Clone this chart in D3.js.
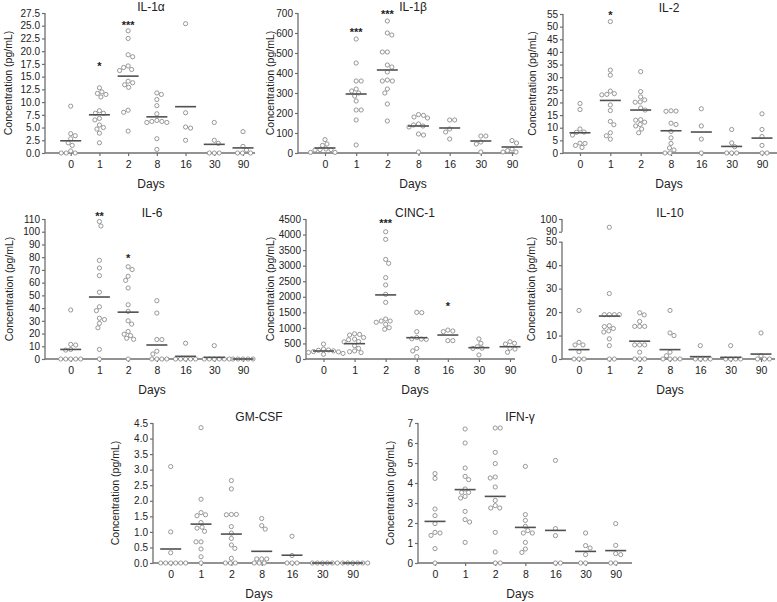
<!DOCTYPE html>
<html><head><meta charset="utf-8">
<script src="https://cdn.jsdelivr.net/npm/d3@7/dist/d3.min.js"></script>
<style>
html,body{margin:0;padding:0;background:#fff;}
svg text{font-family:Arial,"Liberation Sans",sans-serif;fill:#222;}
</style></head>
<body>
<svg id="chart" width="777" height="602"></svg>
<script>
// ---------------- DATA ----------------
const days = ["0","1","2","8","16","30","90"];

const il1aValues = [
  [9.2,3.8,3.4,2.8,2.0,1.5,0.4,0,0,0],
  [12.8,12.0,11.7,11.5,11.0,8.3,7.8,7.8,6.8,6.5,5.5,5.0,4.7,3.9,2.0],
  [24.0,22.5,19.3,18.9,17.1,16.8,16.4,16.2,14.1,13.8,13.4,12.9,8.4,8.0,4.3],
  [11.8,11.5,10.5,9.3,7.7,6.4,6.2,6.0,6.0,6.2,2.8,0.7],
  [25.4,7.9,5.1,4.9,2.5],
  [6.0,2.5,1.9,0,0,0],
  [4.2,1.3,0.6,0,0,0]
];
const il1aMedians = [2.4,7.5,15.1,7.1,9.1,1.7,1.0];
const il1aStars = [null,{t:"*",v:17.4},{t:"***",v:25.6},null,null,null,null];
const il1aTicks = [0,2.5,5,7.5,10,12.5,15,17.5,20,22.5,25,27.5];

const il1bValues = [
  [67,45,38,20,17,17,15,3,3],
  [570,450,360,360,320,310,300,285,260,215,215,165,40],
  [660,600,590,505,505,440,430,405,365,360,360,320,300,245,160],
  [192,188,180,175,145,140,135,130,95,90,5],
  [165,165,120,105,70],
  [85,85,55,45,5],
  [62,50,20,12,5,5]
];
const il1bMedians = [25,295,415,135,125,60,30];
const il1bStars = [null,{t:"***",v:615},{t:"***",v:705},null,null,null,null];
const il1bTicks = [0,100,200,300,400,500,600,700];

const il2Values = [
  [19.6,17.2,9.5,8.3,8.2,7.1,3.9,3.8,3.0,2.2],
  [52,32.8,30.8,24.5,23.5,23.2,23.0,19.0,16.8,12.5,11.2,8.0,6.8,5.5],
  [32.2,24.3,22.2,21.0,20.2,20.1,17.8,17.0,13.2,13.0,12.2,11.3,10.7,9.5,8.0],
  [16.7,16.6,16.5,11.8,11.3,8.5,6.0,3.8,2.0,1.2,0,0],
  [17.5,10.7,5.5,0],
  [9.3,4.0,2.5,0,0,0],
  [15.5,9.3,6.5,3.0,0,0]
];
const il2Medians = [8.0,20.8,17.0,8.8,8.3,2.6,5.9];
const il2Stars = [null,{t:"*",v:55.3},null,null,null,null,null];
const il2Ticks = [0,5,10,15,20,25,30,35,40,45,50,55];

const il6Values = [
  [38.5,11.5,11.0,7.5,7.0,0,0,0,0,0],
  [108,104.5,77.5,71.5,65.5,52.5,41,38,32,31,28,24.5,7.5,0],
  [72.5,70.3,65,61.8,55.8,42.6,37.4,30,27.4,21.6,19.5,18.4,16.3,15.5,0],
  [45.8,36.1,15.3,15.3,6.1,3.9,0,0,0,0],
  [12.4,0,0,0,0,0],
  [10.5,0,0,0,0,0,0],
  [0,0,0,0,0]
];
const il6Medians = [7.5,48.7,36.8,11,2.1,1.3,0];
const il6Stars = [null,{t:"**",v:114},{t:"*",v:81},null,null,null,null];
const il6Ticks = [0,10,20,30,40,50,60,70,80,90,100,110];

const cincValues = [
  [480,320,290,280,260,240,230,210,180,150],
  [810,790,770,690,640,620,560,550,430,340,260,235,205],
  [4090,3845,3200,3075,2615,2380,2080,1820,1285,1220,1220,1180,1115,1005,955],
  [1500,1490,880,690,650,640,630,340,260,75],
  [930,900,880,590,590],
  [645,505,395,345,340,130],
  [555,505,480,345,320,215]
];
const cincMedians = [257,493,2060,685,770,365,395];
const cincStars = [null,null,{t:"***",v:4450},null,{t:"*",v:1780},null,null];
const cincTicks = [0,500,1000,1500,2000,2500,3000,3500,4000,4500];

const il10Values = [
  [20.7,7.1,6.0,6.0,3.1,0,0,0],
  [93.5,27.9,18.9,18.9,18.9,18.9,14.2,13.8,13.0,12.0,11.5,8.6,5.7,0,0],
  [19.7,18.8,16.0,13.9,13.9,13.9,6.0,6.0,6.0,2.9,0,0,0],
  [20.7,11.1,10.0,2.9,1.4,0,0,0,0],
  [5.7,0,0,0,0],
  [5.7,0,0,0,0],
  [11.1,1.4,0,0,0]
];
const il10Medians = [4.0,18.3,7.6,4.0,1.0,0.7,2.1];
const il10Stars = [null,null,null,null,null,null,null];
const il10Ticks = [0,10,20,30,40,50,90,100];

const gmValues = [
  [3.1,1.0,0.33,0,0,0,0,0,0],
  [4.35,2.05,1.62,1.55,1.52,1.3,1.15,1.12,1.02,0.68,0.68,0.45,0.2,0.0],
  [2.65,2.38,1.56,1.55,1.56,1.17,0.96,0.79,0.58,0.47,0.15,0,0,0],
  [1.43,1.2,1.09,0.13,0.13,0.13,0,0,0],
  [0.86,0.24,0,0,0],
  [0,0,0,0,0,0],
  [0,0,0,0,0,0]
];
const gmMedians = [0.45,1.25,0.93,0.375,0.25,0,0];
const gmStars = [null,null,null,null,null,null,null];
const gmTicks = [0,0.5,1,1.5,2,2.5,3,3.5,4,4.5];

const ifnValues = [
  [4.47,4.23,2.7,2.37,1.97,1.53,1.5,1.38,0.72,0],
  [6.7,6.0,4.75,4.33,4.17,3.7,3.53,3.53,3.33,3.25,2.58,2.17,2.05,1.03],
  [6.75,6.75,5.53,4.97,4.3,4.25,3.8,3.13,2.87,2.75,2.75,1.53,0.55,0,0],
  [4.83,2.42,2.13,1.83,1.62,1.5,1.5,1.03,0.7,0.53],
  [5.13,1.72,1.37,0,0],
  [1.5,0.87,0.75,0.42,0,0],
  [1.97,0.88,0.47,0.42,0,0]
];
const ifnMedians = [2.08,3.67,3.33,1.78,1.63,0.58,0.62];
const ifnStars = [null,null,null,null,null,null,null];
const ifnTicks = [0,1,2,3,4,5,6,7];

const yTitle = "Concentration (pg/mL)";
const xTitle = "Days";

// ---------------- LAYOUT ----------------
const panels = [
  {title:"IL-1\u03b1", values:il1aValues, medians:il1aMedians, stars:il1aStars, ticks:il1aTicks, fmt:d3.format(".1f"),
   ax:45, top:13, bottom:153, x0:70.7, x1:243, xEnd:255, ylx:8, cx:151},
  {title:"IL-1\u03b2", values:il1bValues, medians:il1bMedians, stars:il1bStars, ticks:il1bTicks, fmt:d3.format("d"),
   ax:298, top:13, bottom:153, x0:325, x1:512, xEnd:516, ylx:270, cx:413},
  {title:"IL-2", values:il2Values, medians:il2Medians, stars:il2Stars, ticks:il2Ticks, fmt:d3.format("d"),
   ax:563, top:14, bottom:153, x0:580, x1:762, xEnd:777, ylx:532, cx:669},
  {title:"IL-6", values:il6Values, medians:il6Medians, stars:il6Stars, ticks:il6Ticks, fmt:d3.format("d"),
   ax:45, top:219, bottom:359, x0:70.7, x1:243, xEnd:255, ylx:9, cx:152},
  {title:"CINC-1", values:cincValues, medians:cincMedians, stars:cincStars, ticks:cincTicks, fmt:d3.format("d"),
   ax:306, top:219, bottom:359, x0:323.5, x1:510, xEnd:515, ylx:270, cx:415},
  {title:"IL-10", values:il10Values, medians:il10Medians, stars:il10Stars, ticks:il10Ticks, fmt:d3.format("d"),
   ax:562, top:219, bottom:359, x0:579, x1:761, xEnd:775, ylx:531, cx:670, broken:{y50:241.7, y90:231.7}},
  {title:"GM-CSF", values:gmValues, medians:gmMedians, stars:gmStars, ticks:gmTicks, fmt:d3.format(".1f"),
   ax:153, top:423, bottom:563, x0:170.7, x1:352.7, xEnd:365, ylx:115, cx:259},
  {title:"IFN-\u03b3", values:ifnValues, medians:ifnMedians, stars:ifnStars, ticks:ifnTicks, fmt:d3.format("d"),
   ax:418, top:423, bottom:563, x0:435, x1:615.7, xEnd:632, ylx:390, cx:520}
];

const AXIS = "#6e6e6e", DOT = "#8c8c8c", MED = "#505050";
const svg = d3.select("#chart");

function swarm(vals, y, minD) {
  const order = vals.map((v,i)=>({v,i})).sort((a,b)=>b.v-a.v);
  const placed = [];
  let flip = 1;
  order.forEach(o => {
    const py = y(o.v);
    let best = 0;
    for (let k = 0; k < 400; k++) {
      const cands = k === 0 ? [0] : [flip*k*0.5, -flip*k*0.5];
      let found = null;
      for (const dx of cands) {
        let ok = true;
        for (const p of placed) {
          const ddx = p.dx - dx, ddy = p.py - py;
          if (ddx*ddx + ddy*ddy < minD*minD) { ok = false; break; }
        }
        if (ok) { found = dx; break; }
      }
      if (found !== null) { best = found; break; }
    }
    if (best !== 0) flip = best > 0 ? -1 : 1;
    placed.push({dx:best, py, v:o.v});
  });
  return placed;
}

panels.forEach(p => {
  const g = svg.append("g");
  const maxT = d3.max(p.ticks);
  let y;
  if (p.broken) {
    y = d3.scaleLinear().domain([0,50,90,100]).range([p.bottom, p.broken.y50, p.broken.y90, p.top]);
  } else {
    y = d3.scaleLinear().domain([0, maxT]).range([p.bottom, p.top]);
  }
  const x = d3.scalePoint().domain(days).range([p.x0, p.x1]);

  // y axis
  const yAxis = d3.axisLeft(y).tickValues(p.ticks).tickFormat(p.fmt).tickSize(3).tickSizeOuter(0).tickPadding(2);
  const ya = g.append("g").attr("transform", `translate(${p.ax},0)`).call(yAxis);
  ya.select(".domain").remove();
  ya.selectAll(".tick line").attr("stroke", AXIS).attr("stroke-width", 1.2);
  ya.selectAll(".tick text").style("font-size","10px").attr("fill","#222");
  if (p.broken) {
    g.append("line").attr("x1",p.ax).attr("x2",p.ax).attr("y1",p.bottom).attr("y2",y(50))
      .attr("stroke",AXIS).attr("stroke-width",1.3);
    g.append("line").attr("x1",p.ax).attr("x2",p.ax).attr("y1",y(90)).attr("y2",y(100))
      .attr("stroke",AXIS).attr("stroke-width",1.3);
  } else {
    g.append("line").attr("x1",p.ax).attr("x2",p.ax).attr("y1",p.bottom).attr("y2",p.top)
      .attr("stroke",AXIS).attr("stroke-width",1.3);
  }

  // x axis
  const xAxis = d3.axisBottom(x).tickSize(3).tickSizeOuter(0).tickPadding(5);
  const xa = g.append("g").attr("transform", `translate(0,${p.bottom})`).call(xAxis);
  xa.select(".domain").remove();
  xa.selectAll(".tick line").attr("stroke", AXIS).attr("stroke-width", 1.2);
  xa.selectAll(".tick text").style("font-size","10.5px").attr("fill","#222");
  g.append("line").attr("x1",p.ax).attr("x2",p.xEnd).attr("y1",p.bottom).attr("y2",p.bottom)
    .attr("stroke",AXIS).attr("stroke-width",1.3);

  // dots
  p.values.forEach((vals, gi) => {
    const cxv = x(days[gi]);
    const pts = swarm(vals, y, 4.7);
    g.selectAll(null).data(pts).enter().append("circle")
      .attr("cx", d => cxv + d.dx).attr("cy", d => d.py).attr("r", 2.1)
      .attr("fill","#fff").attr("stroke",DOT).attr("stroke-width",0.9);
  });

  // medians
  g.selectAll(null).data(p.medians).enter().append("line")
    .attr("x1",(d,i)=>x(days[i])-10.5).attr("x2",(d,i)=>x(days[i])+10.5)
    .attr("y1",d=>y(d)).attr("y2",d=>y(d))
    .attr("stroke",MED).attr("stroke-width",1.6);

  // stars
  p.stars.forEach((s, gi) => {
    if (!s) return;
    g.append("text").attr("x", x(days[gi])).attr("y", y(Math.min(s.v, p.broken?100:maxT*1.2)) + 6)
      .attr("text-anchor","middle").style("font-size","11px").style("font-weight","bold").text(s.t);
  });

  // titles
  g.append("text").attr("x",p.cx).attr("y",p.top-6).attr("text-anchor","middle")
    .attr("dominant-baseline","central").style("font-size","12px").text(p.title);
  g.append("text").attr("x",p.cx).attr("y",p.bottom+31).attr("text-anchor","middle")
    .attr("dominant-baseline","central").style("font-size","12px").text(xTitle);
  g.append("text").attr("transform",`translate(${p.ylx},${(p.top+p.bottom)/2}) rotate(-90)`)
    .attr("text-anchor","middle").attr("dominant-baseline","central")
    .style("font-size","10.5px").text(yTitle);
});
</script>
</body></html>
